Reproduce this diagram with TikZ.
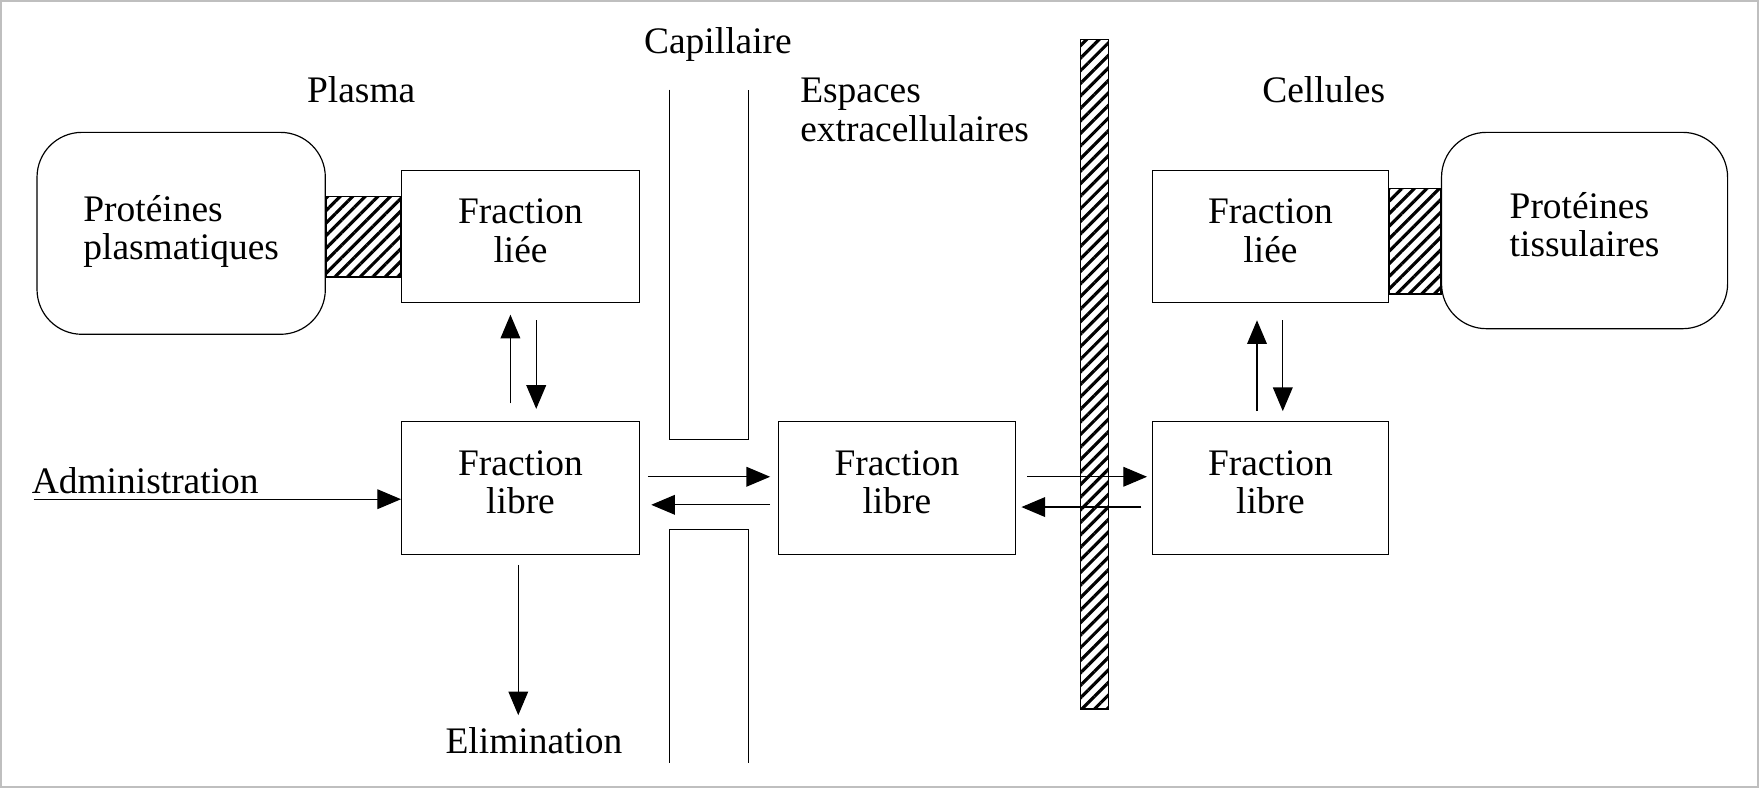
\documentclass[tikz,border=0pt]{standalone}
\usepackage{fontspec}
\setmainfont{Liberation Serif}
\usetikzlibrary{arrows.meta, patterns.meta, calc}

\tikzset{
  box/.style={draw, semithick, minimum width=212*0.02cm, minimum height=118*0.02cm, align=center, font=\fontsize{19}{19.5}\selectfont, text depth=6pt},
  prot/.style={draw, semithick, rounded corners=0.8cm, align=left, font=\fontsize{19}{19.5}\selectfont, text depth=6pt},
  hatch/.style={draw, pattern={Lines[angle=45, distance=4.5pt, line width=1.6pt]}},
  lbl/.style={font=\fontsize{19}{19.5}\selectfont, align=left},
}

\begin{document}
\begin{tikzpicture}[x=0.02cm, y=-0.02cm, >={Triangle[length=12pt, width=10pt]}, semithick]
        \useasboundingbox (0, 0) rectangle (1568, 702);
        \draw[gray!50, line width=2pt] (0, 0) rectangle (1568, 702);

        % plasma
        \node[lbl] (plasma) at (322, 80) {Plasma};
        \node[prot, minimum width=257*0.02cm, minimum height=180*0.02cm] (pp) at (161.5, 208) {Protéines\\plasmatiques};
        \node[box] (lie1) at (464, 211) {Fraction\\liée};
        \node[box] (lib1) at (464, 435) {Fraction\\libre};
        \draw[hatch] (pp.east |- 0, 175) rectangle (lie1.west |- 0, 247);
        \draw[->] ($(lib1.north)+(-9, -16)$) -- ($(lie1.south)+(-9, 10)$);
        \draw[->] ($(lie1.south)+(14, 15)$) -- ($(lib1.north)+(14, -11)$);
        \coordinate (adm) at (30, 445);
        \node[lbl, above right] at (22, 447) {Administration};
        \draw[->] (adm) -- (adm -| lib1.west);
        \node[lbl] (elim) at (476, 660) {Elimination};
        \draw[->] ($(lib1.south)+(-2, 9)$) -- ($(lib1.south)+(-2, 143)$);

        % capillaire
        \node[lbl] (cap) at (640, 40) {Capillaire};
        \draw (597, 80) -- (597, 392) -- (667, 392) -- (667, 80);
        \draw (597, 680) -- (597, 472) -- (667, 472) -- (667, 680);

        % espaces extracellulaires
        \node[lbl, right] (esp) at (707, 98) {Espaces\\extracellulaires};
        \node[box, minimum width=211*0.02cm] (lib2) at (799.5, 435) {Fraction\\libre};
        \draw[->] ($(lib1.east)+(7, -10)$) -- ($(lib2.west)+(-7, -10)$);
        \draw[->] ($(lib2.west)+(-7, 15)$) -- ($(lib1.east)+(10, 15)$);

        % membrane
        \draw[hatch] (963, 35) rectangle (988, 632);

        % cellules
        \node[lbl] (cell) at (1180, 80) {Cellules};
        \node[box, minimum width=211*0.02cm] (lie3) at (1132.5, 211) {Fraction\\liée};
        \node[box, minimum width=211*0.02cm] (lib3) at (1132.5, 435) {Fraction\\libre};
        \node[prot, minimum width=255*0.02cm, minimum height=175*0.02cm] (pt) at (1412.5, 205.5) {Protéines\\tissulaires};
        \draw[hatch] (lie3.east |- 0, 168) rectangle (pt.west |- 0, 262);
        \draw[->] ($(lib3.north)+(-12, -9)$) -- ($(lie3.south)+(-12, 15)$);
        \draw[->] ($(lie3.south)+(11, 15)$) -- ($(lib3.north)+(11, -9)$);
        \draw[->] ($(lib2.east)+(10, -10)$) -- ($(lib3.west)+(-4, -10)$);
        \draw[->] ($(lib3.west)+(-9, 17)$) -- ($(lib2.east)+(5, 17)$);
    \end{tikzpicture}
\end{document}
